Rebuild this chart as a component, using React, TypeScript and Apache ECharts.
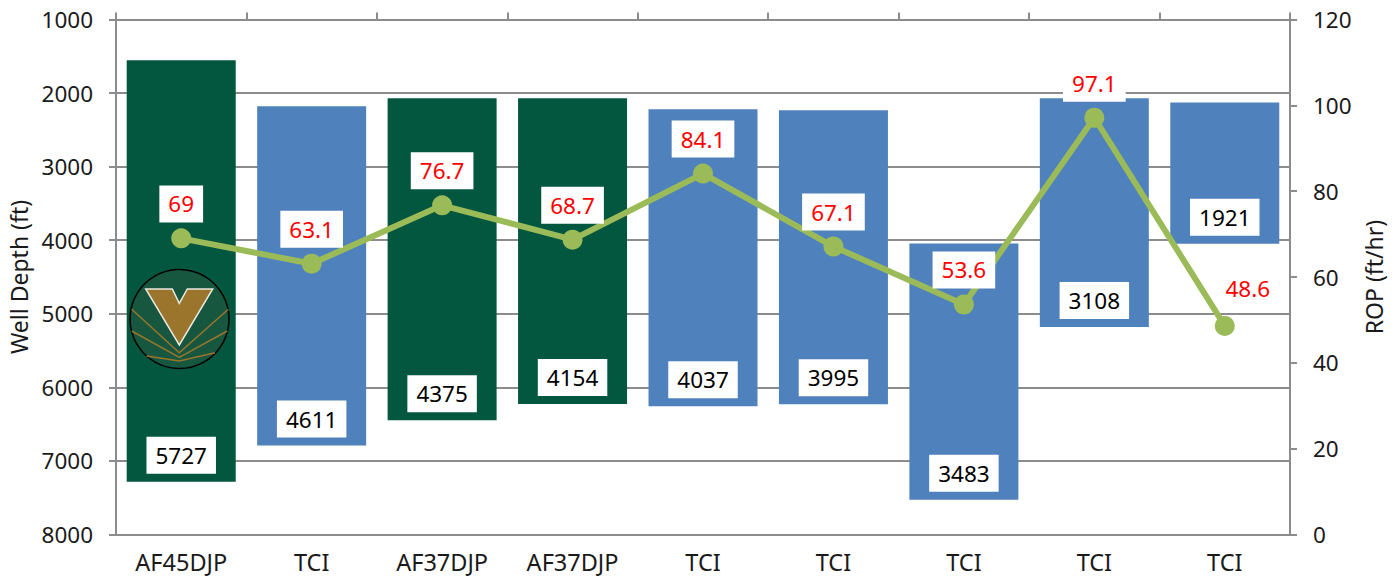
import React, { useEffect, useRef } from "react";
import * as echarts from "echarts";

const categories = ["AF45DJP", "TCI", "AF37DJP", "AF37DJP", "TCI", "TCI", "TCI", "TCI", "TCI"];
const topDepth = [1555, 2180, 2072, 2072, 2221, 2235, 4044, 2072, 2127];
const interval = [5727, 4611, 4375, 4154, 4037, 3995, 3483, 3108, 1921];
const rop = [69, 63.1, 76.7, 68.7, 84.1, 67.1, 53.6, 97.1, 48.6];
const barColors = ["#03573f", "#4f81bd", "#03573f", "#03573f", "#4f81bd", "#4f81bd", "#4f81bd", "#4f81bd", "#4f81bd"];

const FONT = "'Noto Sans', sans-serif";
const GRAY = "#8c8c8c";

const LOGO_V = [[145.7, 289], [172.3, 289], [179.3, 303.3], [187.3, 289], [212.7, 289], [179.3, 345]];
const LOGO_L1 = [[131.7, 309.3], [179.3, 352.7], [228.3, 309.3]];
const LOGO_L2 = [[131.7, 331], [179.3, 357.3], [227.3, 331]];
const LOGO_L3 = [[146.7, 356], [179.3, 361], [215, 352.7]];

export default function App() {
  const ref = useRef<HTMLDivElement>(null);
  useEffect(() => {
    const chart = echarts.init(ref.current!, null, { renderer: "svg" });
    const lineStyle = { color: GRAY, width: 2 };
    const boxLabel = {
      show: true,
      fontSize: 22.5,
      lineHeight: 25,
      fontFamily: FONT,
      backgroundColor: "#fff",
      padding: [6, 9],
    };
    chart.setOption({
      animation: false,
      textStyle: { fontFamily: FONT },
      grid: { left: 116, right: 109, top: 19.5, bottom: 43.5, outerBoundsMode: "none" },
      xAxis: [
        {
          type: "category",
          data: categories,
          position: "top",
          axisLine: { show: true, onZero: false, lineStyle },
          axisTick: { show: true, length: 7, lineStyle, alignWithLabel: false },
          axisLabel: { show: false },
          splitLine: { show: false },
        },
        {
          type: "category",
          data: categories,
          position: "bottom",
          axisLine: { show: true, onZero: false, lineStyle },
          axisTick: { show: false },
          axisLabel: { color: "#1a1a1a", fontSize: 23.5, lineHeight: 24, fontFamily: FONT, margin: 15 },
          splitLine: { show: false },
        },
      ],
      yAxis: [
        {
          type: "value",
          inverse: true,
          min: 1000,
          max: 8000,
          interval: 1000,
          name: "Well Depth (ft)",
          nameLocation: "middle",
          nameGap: 82,
          nameTextStyle: { color: "#1a1a1a", fontSize: 23, fontFamily: FONT },
          axisLine: { show: true, lineStyle },
          axisTick: { show: true, length: 7, lineStyle },
          axisLabel: { color: "#1a1a1a", fontSize: 22.5, fontFamily: FONT, margin: 23, formatter: (v: number) => String(v) },
          splitLine: { show: true, lineStyle },
        },
        {
          type: "value",
          position: "right",
          min: 0,
          max: 120,
          interval: 20,
          name: "ROP (ft/hr)",
          nameLocation: "middle",
          nameGap: 71,
          nameTextStyle: { color: "#1a1a1a", fontSize: 23, fontFamily: FONT },
          axisLine: { show: true, lineStyle },
          axisTick: { show: true, length: 7, lineStyle },
          axisLabel: { color: "#1a1a1a", fontSize: 22.5, fontFamily: FONT, margin: 23 },
          splitLine: { show: false },
        },
      ],
      series: [
        {
          type: "bar",
          stack: "depth",
          xAxisIndex: 1,
          yAxisIndex: 0,
          barWidth: 109,
          silent: true,
          itemStyle: { color: "transparent" },
          data: topDepth,
        },
        {
          type: "bar",
          stack: "depth",
          xAxisIndex: 1,
          yAxisIndex: 0,
          barWidth: 109,
          data: interval.map((v, i) => ({ value: v, itemStyle: { color: barColors[i] } })),
          label: { ...boxLabel, position: "insideBottom", distance: 8, color: "#000" },
        },
        {
          type: "line",
          xAxisIndex: 1,
          yAxisIndex: 1,
          symbol: "circle",
          symbolSize: 20,
          itemStyle: { color: "#9bbb59" },
          lineStyle: { color: "#9bbb59", width: 6 },
          data: rop.map((v, i) =>
            i === rop.length - 1
              ? { value: v, label: { backgroundColor: "transparent", offset: [23, -3] } }
              : { value: v }
          ),
          label: { ...boxLabel, position: "top", distance: 6, color: "#ff0000" },
          z: 5,
        },
      ],
      graphic: [
        { type: "circle", z: 100, shape: { cx: 179.5, cy: 319, r: 49.5 }, style: { fill: "#17573f", stroke: "#000", lineWidth: 1.5 } },
        { type: "polyline", z: 101, shape: { points: LOGO_L1 }, style: { fill: "none", stroke: "#9a752b", lineWidth: 1.5 } },
        { type: "polyline", z: 101, shape: { points: LOGO_L2 }, style: { fill: "none", stroke: "#9a752b", lineWidth: 1.5 } },
        { type: "polyline", z: 101, shape: { points: LOGO_L3 }, style: { fill: "none", stroke: "#9a752b", lineWidth: 1.5 } },
        { type: "polygon", z: 102, shape: { points: LOGO_V }, style: { fill: "#9a752b", stroke: "#e8e8e0", lineWidth: 1.5 } },
      ],
    });
    return () => chart.dispose();
  }, []);
  return <div ref={ref} style={{ width: 1399, height: 578, position: "absolute", left: 0, top: 0 }} />;
}
